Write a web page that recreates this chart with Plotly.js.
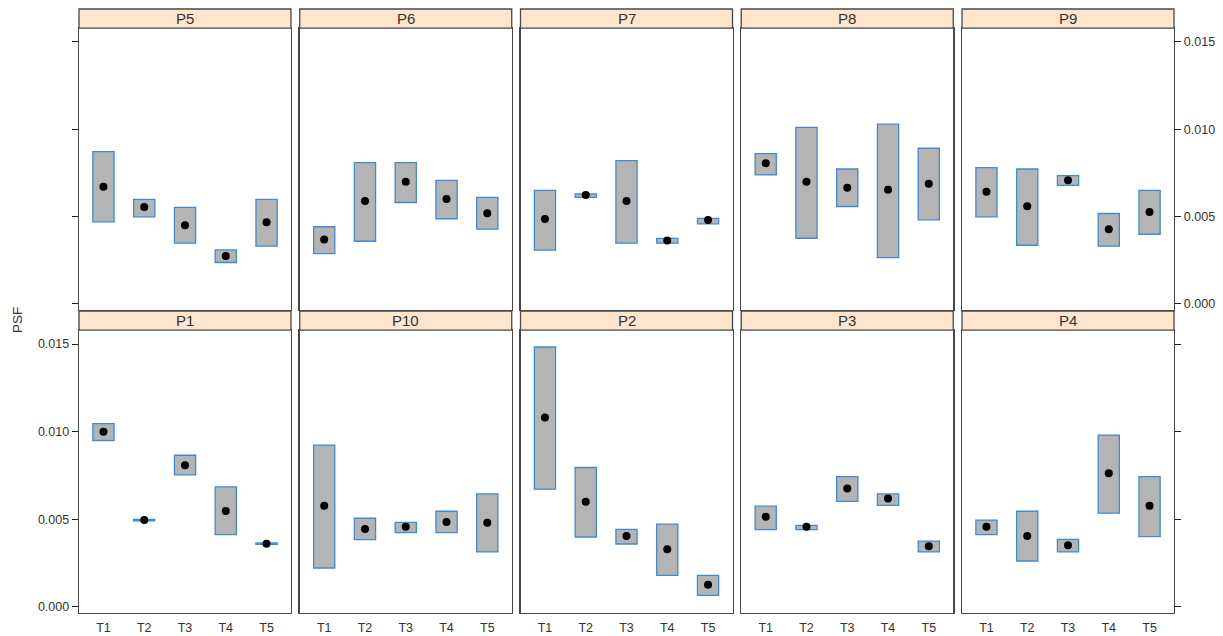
<!DOCTYPE html>
<html>
<head>
<meta charset="utf-8">
<script src="https://cdn.plot.ly/plotly-3.0.1.min.js"></script>
<style>html,body{margin:0;padding:0;background:#fff;}#chart{width:1223px;height:636px;}</style>
</head>
<body>
<div id="chart"></div>
<script>
const categories = ['T1','T2','T3','T4','T5'];
const panelNames = ['P5','P6','P7','P8','P9','P1','P10','P2','P3','P4'];
const yTickVals = [0, 0.005, 0.010, 0.015];
const yTickText = ['0.000','0.005','0.010','0.015'];

const P5_lo = [0.00469,0.00498,0.00347,0.00236,0.00330];
const P5_hi = [0.00872,0.00598,0.00552,0.00308,0.00598];
const P5_pt = [0.00670,0.00554,0.00450,0.00274,0.00467];
const P6_lo = [0.00287,0.00358,0.00580,0.00487,0.00427];
const P6_hi = [0.00441,0.00808,0.00808,0.00707,0.00609];
const P6_pt = [0.00368,0.00588,0.00699,0.00600,0.00519];
const P7_lo = [0.00307,0.00609,0.00347,0.00347,0.00458];
const P7_hi = [0.00649,0.00630,0.00820,0.00374,0.00489];
const P7_pt = [0.00485,0.00623,0.00588,0.00362,0.00479];
const P8_lo = [0.00738,0.00375,0.00557,0.00264,0.00481];
const P8_hi = [0.00860,0.01011,0.00772,0.01029,0.00891];
const P8_pt = [0.00805,0.00699,0.00665,0.00653,0.00688];
const P9_lo = [0.00498,0.00335,0.00678,0.00330,0.00398];
const P9_hi = [0.00780,0.00772,0.00734,0.00517,0.00649];
const P9_pt = [0.00642,0.00559,0.00707,0.00427,0.00525];
const P1_lo = [0.00949,0.00490,0.00753,0.00412,0.00356];
const P1_hi = [0.01045,0.00498,0.00865,0.00684,0.00364];
const P1_pt = [0.00999,0.00495,0.00808,0.00547,0.00360];
const P10_lo = [0.00221,0.00383,0.00423,0.00423,0.00313];
const P10_hi = [0.00923,0.00505,0.00482,0.00545,0.00644];
const P10_pt = [0.00576,0.00444,0.00456,0.00484,0.00480];
const P2_lo = [0.00671,0.00398,0.00358,0.00179,0.00065];
const P2_hi = [0.01483,0.00795,0.00442,0.00471,0.00179];
const P2_pt = [0.01081,0.00600,0.00404,0.00328,0.00126];
const P3_lo = [0.00440,0.00440,0.00602,0.00579,0.00313];
const P3_hi = [0.00574,0.00465,0.00743,0.00644,0.00374];
const P3_pt = [0.00513,0.00456,0.00675,0.00618,0.00345];
const P4_lo = [0.00412,0.00261,0.00313,0.00534,0.00400];
const P4_hi = [0.00494,0.00545,0.00385,0.00980,0.00743];
const P4_pt = [0.00456,0.00404,0.00351,0.00762,0.00576];

const panelData = [
  [P5_lo,P5_hi,P5_pt],[P6_lo,P6_hi,P6_pt],[P7_lo,P7_hi,P7_pt],[P8_lo,P8_hi,P8_pt],[P9_lo,P9_hi,P9_pt],
  [P1_lo,P1_hi,P1_pt],[P10_lo,P10_hi,P10_pt],[P2_lo,P2_hi,P2_pt],[P3_lo,P3_hi,P3_pt],[P4_lo,P4_hi,P4_pt]
];

const FONT = 'Liberation Sans, Arial, sans-serif';
const TXT = '#333333';
const BORDER = '#484848';
const W = 1095, H = 604;
const pw = 212/W, gap = (W - 5*212)/4/W;
const rowDom = [[0.5017, 0.9685],[0, 0.4685]];
const stripDom = [[0.9685, 1.0],[0.4685, 0.5]];
const yRange = [-0.00036, 0.0158];

const traces = [];
const layout = {
  width: 1223, height: 636,
  margin: {l: 79, r: 49, t: 9, b: 23, pad: 0},
  paper_bgcolor: '#ffffff', plot_bgcolor: '#ffffff',
  showlegend: false,
  font: {family: FONT, color: TXT, size: 12},
  shapes: [], annotations: []
};

panelNames.forEach((name, i) => {
  const row = i < 5 ? 0 : 1;
  const col = i % 5;
  const k = i + 1;
  const xa = 'x' + (k === 1 ? '' : k);
  const ya = 'y' + (k === 1 ? '' : k);
  const [lo, hi, pt] = panelData[i];
  traces.push({
    type: 'bar', x: categories, y: hi.map((h, j) => h - lo[j]), base: lo,
    width: 0.52, xaxis: xa, yaxis: ya, hoverinfo: 'skip',
    marker: {color: '#b4b4b4', line: {color: '#4189d3', width: 1.3}}
  });
  traces.push({
    type: 'scatter', mode: 'markers', x: categories, y: pt, xaxis: xa, yaxis: ya,
    hoverinfo: 'skip', marker: {color: '#000000', size: 8}
  });
  const x0 = col * (pw + gap), x1 = x0 + pw;
  const xKey = 'xaxis' + (k === 1 ? '' : k);
  const yKey = 'yaxis' + (k === 1 ? '' : k);
  layout[xKey] = {
    domain: [x0, x1], anchor: ya, type: 'category',
    categoryorder: 'array', categoryarray: categories,
    range: [-0.6, 4.6], showgrid: false, zeroline: false,
    showline: true, mirror: true, linecolor: BORDER, linewidth: 1.3,
    ticks: '', showticklabels: row === 1, ticklabelstandoff: 3,
    tickfont: {family: FONT, size: 12.5, color: TXT}, fixedrange: true
  };
  const yax = {
    domain: rowDom[row], anchor: xa, range: yRange,
    showgrid: false, zeroline: false,
    showline: true, mirror: true, linecolor: BORDER, linewidth: 1.3,
    tickvals: yTickVals, ticktext: yTickText,
    tickfont: {family: FONT, size: 12.5, color: TXT}, fixedrange: true,
    ticks: '', showticklabels: false
  };
  if (col === 0) {
    yax.ticks = 'outside'; yax.ticklen = 6; yax.tickcolor = '#222';
    yax.showticklabels = row === 1;
  } else if (col === 4) {
    yax.side = 'right';
    yax.ticks = 'outside'; yax.ticklen = 6; yax.tickcolor = '#222';
    yax.showticklabels = row === 0;
  }
  layout[yKey] = yax;
  layout.shapes.push({
    type: 'rect', xref: 'paper', yref: 'paper',
    x0: x0, x1: x1, y0: stripDom[row][0], y1: stripDom[row][1],
    fillcolor: '#ffe5cc', line: {color: BORDER, width: 1.3}, layer: 'above'
  });
  layout.annotations.push({
    xref: 'paper', yref: 'paper', x: (x0 + x1) / 2, y: (stripDom[row][0] + stripDom[row][1]) / 2,
    xanchor: 'center', yanchor: 'middle', showarrow: false,
    text: name, font: {family: FONT, size: 15, color: TXT}
  });
});

layout.annotations.push({
  xref: 'paper', yref: 'paper', x: (17 - 79) / W, y: (613 - 320) / H,
  xanchor: 'center', yanchor: 'middle', showarrow: false, textangle: -90,
  text: 'PSF', font: {family: FONT, size: 13.5, color: TXT}
});

Plotly.newPlot('chart', traces, layout, {staticPlot: true, displayModeBar: false});
</script>
</body>
</html>
